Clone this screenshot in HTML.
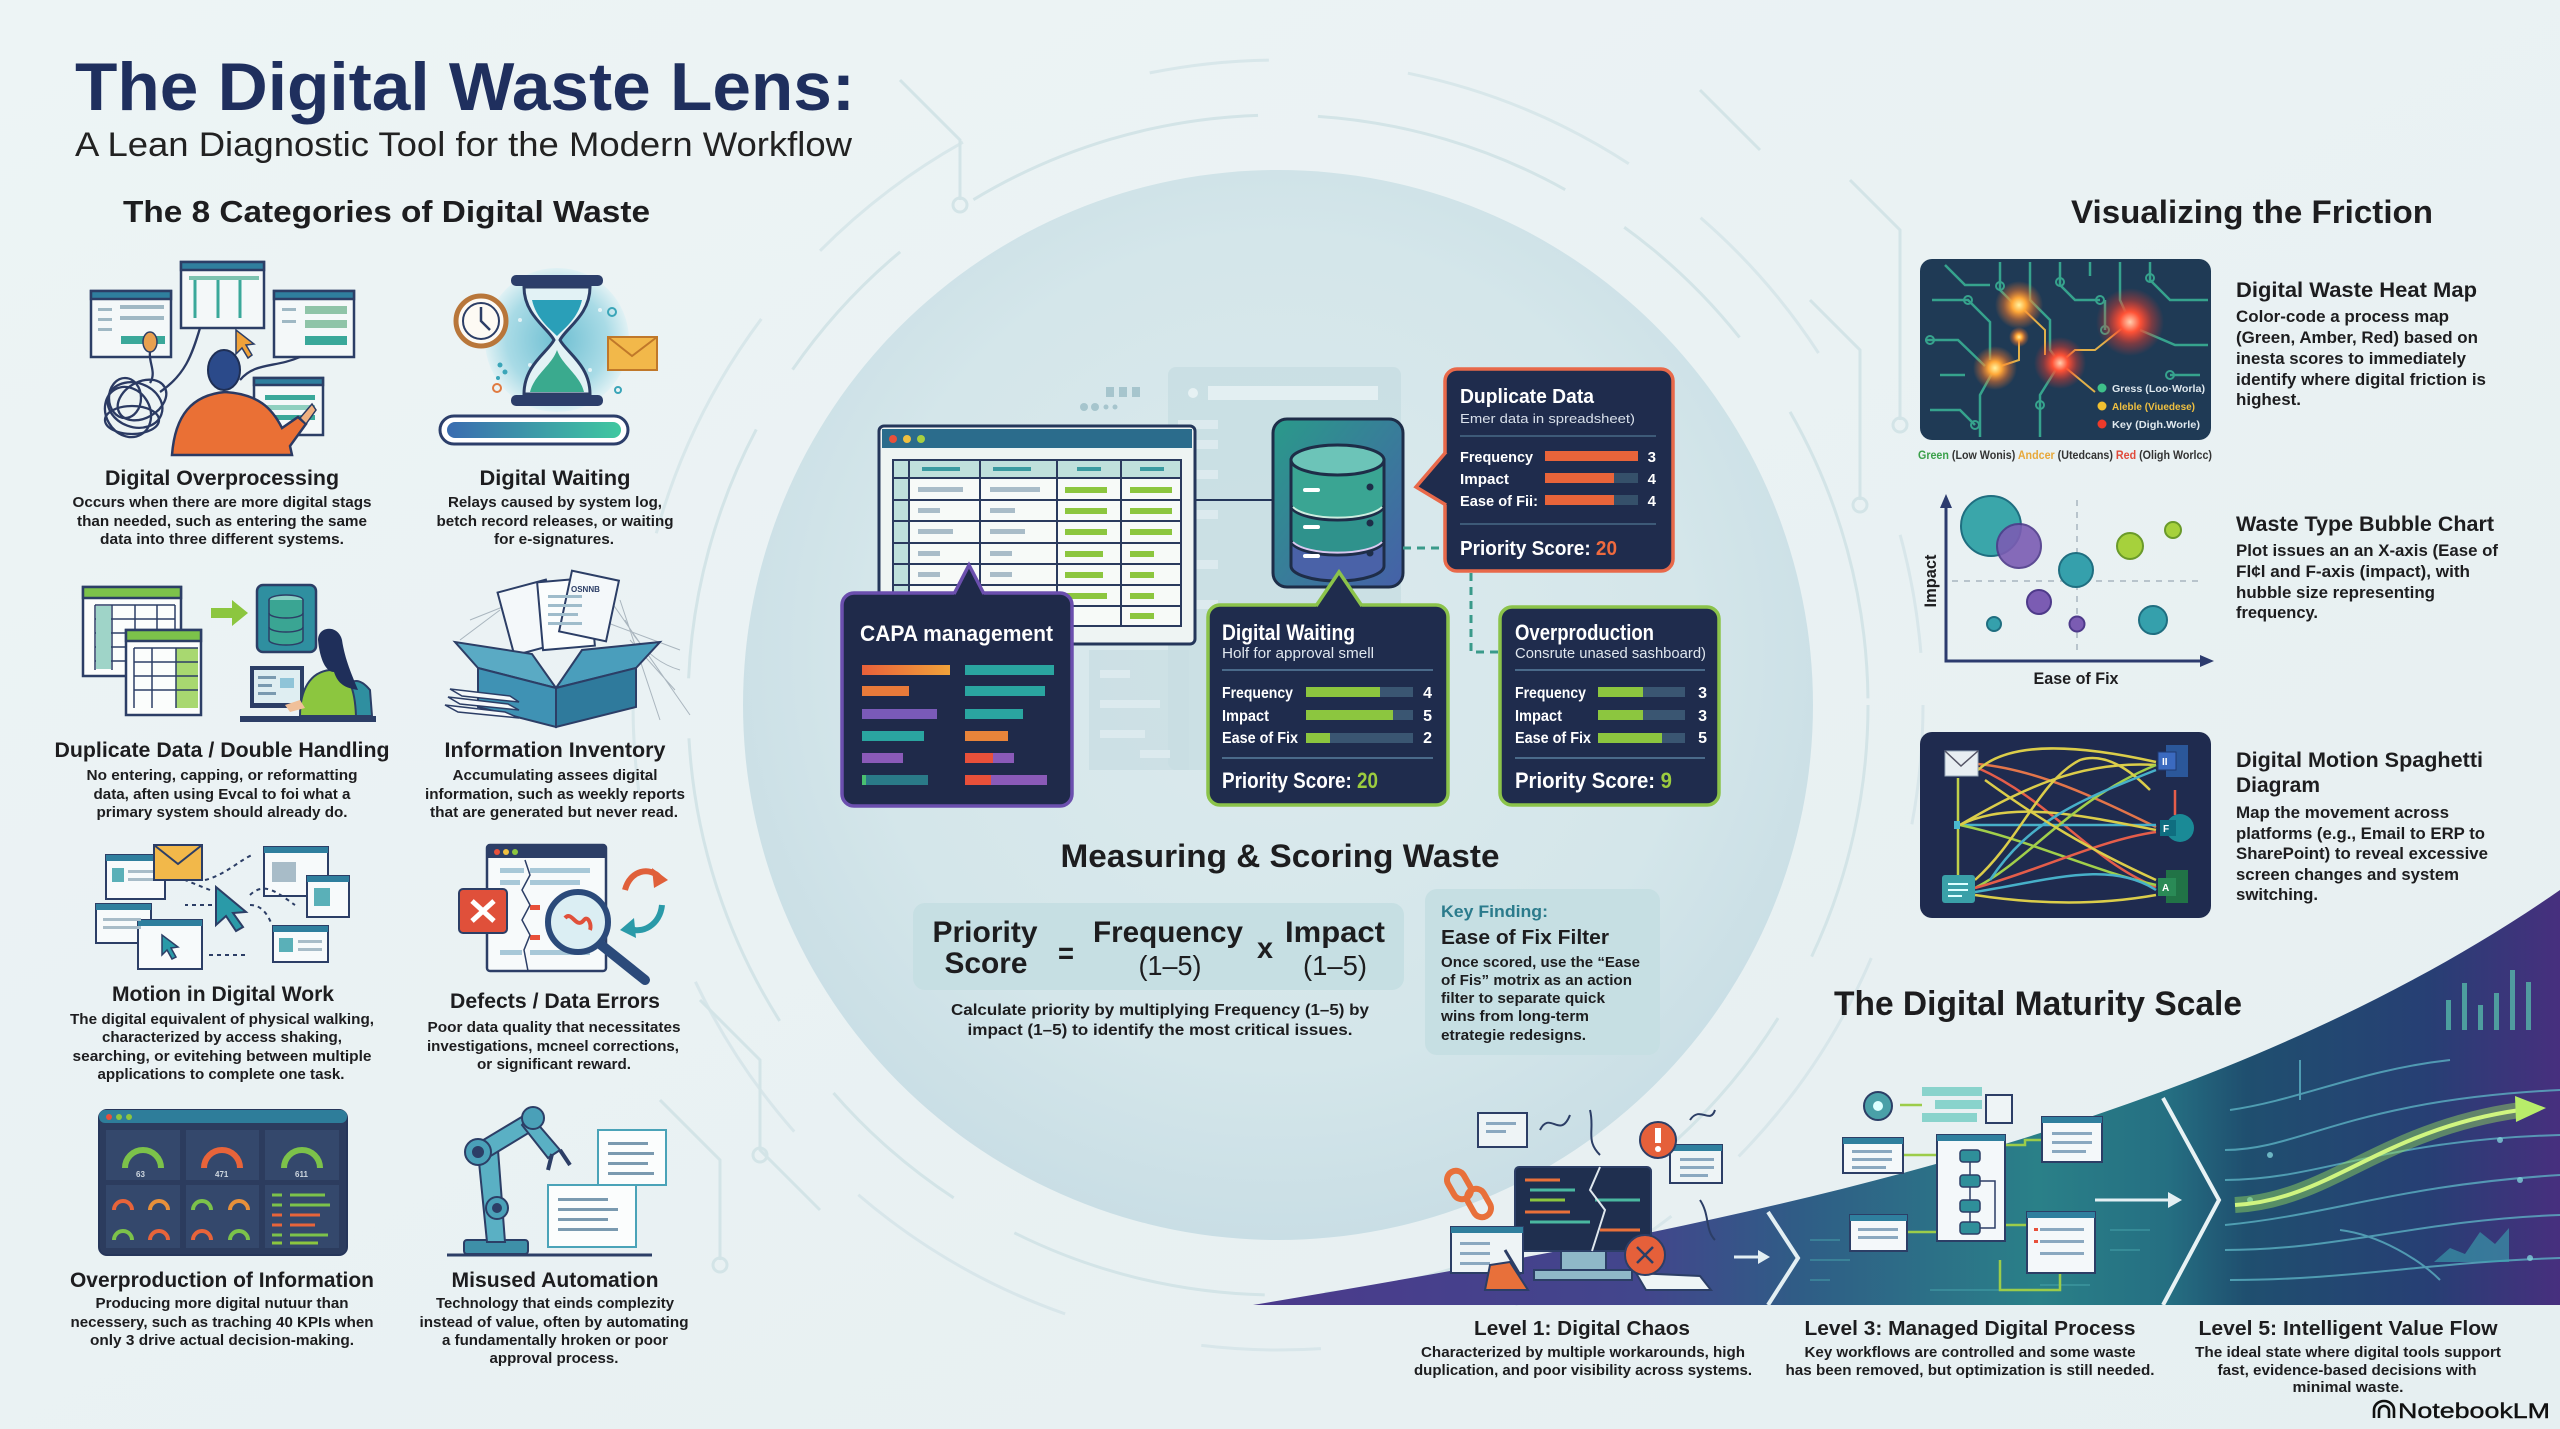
<!DOCTYPE html>
<html><head><meta charset="utf-8"><style>
html,body{margin:0;padding:0;background:#e9f1f3;}
svg{display:block}
text{font-family:"Liberation Sans",Arial,sans-serif;}
.b{font-weight:700}
.c{text-anchor:middle}
.e{text-anchor:end}
.k{fill:#1d1d1f}
.w{fill:#ffffff}
</style></head><body>
<svg width="2560" height="1429" viewBox="0 0 2560 1429" xmlns="http://www.w3.org/2000/svg">
<defs>
<linearGradient id="bgG" x1="0" y1="0" x2="1" y2="1"><stop offset="0" stop-color="#edf4f5"/><stop offset="1" stop-color="#e6eff1"/></linearGradient>
<radialGradient id="discG" cx="0.5" cy="0.45" r="0.55"><stop offset="0" stop-color="#dceaed"/><stop offset="0.7" stop-color="#d4e6ea"/><stop offset="1" stop-color="#c9dee5"/></radialGradient>
<linearGradient id="wedgeG" gradientUnits="userSpaceOnUse" x1="1253" y1="0" x2="2560" y2="0">
<stop offset="0" stop-color="#4b3a8c"/><stop offset="0.3" stop-color="#42468c"/><stop offset="0.42" stop-color="#2f5d86"/><stop offset="0.6" stop-color="#2a8088"/><stop offset="0.7" stop-color="#256f82"/><stop offset="0.76" stop-color="#1f4f6f"/><stop offset="0.9" stop-color="#273f74"/><stop offset="1" stop-color="#472f7e"/></linearGradient>
<linearGradient id="dbG" x1="0" y1="0" x2="1" y2="1"><stop offset="0" stop-color="#2a9a8a"/><stop offset="1" stop-color="#4660a8"/></linearGradient>
<radialGradient id="gO"><stop offset="0" stop-color="#fff3a0"/><stop offset="0.3" stop-color="#ffa838"/><stop offset="0.65" stop-color="#ff7a28" stop-opacity="0.45"/><stop offset="1" stop-color="#ff7a28" stop-opacity="0"/></radialGradient>
<radialGradient id="gR"><stop offset="0" stop-color="#ffd0b0"/><stop offset="0.3" stop-color="#ff5236"/><stop offset="0.65" stop-color="#ff3c28" stop-opacity="0.4"/><stop offset="1" stop-color="#ff3c28" stop-opacity="0"/></radialGradient>
<linearGradient id="pbG" x1="0" x2="1"><stop offset="0" stop-color="#3a6cb0"/><stop offset="1" stop-color="#40c8a0"/></linearGradient>
<radialGradient id="hgG"><stop offset="0" stop-color="#6fbfd2"/><stop offset="0.7" stop-color="#a9dbe6"/><stop offset="1" stop-color="#e0f1f4"/></radialGradient>
<linearGradient id="orG" x1="0" x2="1"><stop offset="0" stop-color="#e8603a"/><stop offset="1" stop-color="#f0a23a"/></linearGradient>
</defs>

<!-- background -->
<rect width="2560" height="1429" fill="url(#bgG)"/>
<g fill="none" stroke="#d3e4e7" stroke-width="3">
<circle cx="1278" cy="705" r="590" stroke-dasharray="260 70 160 90 300 60"/>
<circle cx="1278" cy="705" r="645" stroke-dasharray="120 140 240 90 180 200" opacity=".8"/>
<path d="M700,1000 L760,1060 V1150 L820,1210"/><path d="M660,1100 L720,1160 V1260"/>
<path d="M1810,300 L1860,350 V500"/><path d="M1850,180 L1900,230 V420"/>
<path d="M1700,90 L1760,150"/><path d="M900,80 L960,140 V200"/>
</g>
<g fill="none" stroke="#d3e4e7" stroke-width="3"><circle cx="1860" cy="505" r="7"/><circle cx="1900" cy="425" r="7"/><circle cx="960" cy="205" r="7"/><circle cx="760" cy="1155" r="7"/><circle cx="720" cy="1265" r="7"/></g>

<!-- center disc -->
<circle cx="1278" cy="705" r="535" fill="url(#discG)"/>

<!-- TITLE -->
<text x="75" y="110" class="b" font-size="68" fill="#1f2f5e" textLength="780" lengthAdjust="spacingAndGlyphs">The Digital Waste Lens:</text>
<text x="75" y="156" font-size="34" fill="#222" textLength="777" lengthAdjust="spacingAndGlyphs">A Lean Diagnostic Tool for the Modern Workflow</text>
<text x="123" y="222" class="b k" font-size="31" textLength="527" lengthAdjust="spacingAndGlyphs">The 8 Categories of Digital Waste</text>

<!-- ICON 1 Overprocessing -->
<g stroke="#2c3e66" stroke-width="2.5">
<rect x="91" y="291" width="80" height="66" fill="#f4f8f9"/><rect x="91" y="291" width="80" height="8" fill="#2f7f9e"/>
<rect x="181" y="262" width="83" height="66" fill="#f4f8f9"/><rect x="181" y="262" width="83" height="8" fill="#2f7f9e"/>
<rect x="274" y="291" width="80" height="66" fill="#f4f8f9"/><rect x="274" y="291" width="80" height="8" fill="#2f7f9e"/>
<rect x="254" y="378" width="69" height="57" fill="#f4f8f9"/><rect x="254" y="378" width="69" height="7" fill="#2f7f9e"/>
</g>
<g fill="#9fb8c4"><rect x="98" y="308" width="14" height="3"/><rect x="98" y="318" width="14" height="3"/><rect x="98" y="328" width="14" height="3"/><rect x="120" y="305" width="44" height="4"/><rect x="120" y="316" width="44" height="4"/></g>
<rect x="121" y="336" width="44" height="8" fill="#3aa89a"/>
<g stroke="#3aa89a" stroke-width="3"><path d="M195,280 V318 M218,280 V318 M240,280 V318"/></g>
<g fill="#7cc3b0"><rect x="189" y="276" width="70" height="4"/></g>
<g fill="#9fb8c4"><rect x="282" y="308" width="14" height="3"/><rect x="282" y="320" width="14" height="3"/></g>
<rect x="305" y="306" width="42" height="8" fill="#8fc4a8"/><rect x="305" y="320" width="42" height="8" fill="#8fc4a8"/><rect x="305" y="336" width="42" height="9" fill="#3aa89a"/>
<g fill="#3aa89a"><rect x="265" y="395" width="50" height="5"/><rect x="265" y="405" width="50" height="5" fill="#8fd0c0"/><rect x="265" y="415" width="50" height="5"/></g>
<polygon points="236,330 236,354 242,348 248,358 252,355 246,345 254,344" fill="#f0a23a" stroke="#2c3e66" stroke-width="1.5"/>
<g stroke="#2b3a63" stroke-width="2.3" fill="none">
<ellipse cx="135" cy="405" rx="28" ry="22" transform="rotate(20 135 405)"/>
<ellipse cx="128" cy="412" rx="22" ry="26" transform="rotate(-30 128 412)"/>
<ellipse cx="142" cy="400" rx="18" ry="26" transform="rotate(60 142 400)"/>
<ellipse cx="132" cy="420" rx="27" ry="14"/>
<ellipse cx="125" cy="398" rx="16" ry="20"/>
<path d="M150,383 C158,370 145,360 152,345"/>
<path d="M160,392 C185,375 192,355 200,328"/>
<path d="M240,380 C255,362 275,368 300,357"/>
</g>
<ellipse cx="150" cy="342" rx="7" ry="10" fill="#e8a050" stroke="#2c3e66" stroke-width="1.5"/>
<path d="M200,455 V432 Q225,420 250,432 V455 Z" fill="#2e6ea0" stroke="#2b3a63" stroke-width="2"/>
<path d="M172,455 C175,415 192,395 225,392 C258,394 272,408 282,428 L298,417 L306,424 L290,446 L292,455 Z" fill="#ea7035" stroke="#2b3a63" stroke-width="2.5"/>
<ellipse cx="224" cy="370" rx="16" ry="20" fill="#2b4a8a" stroke="#1f2f55" stroke-width="2"/>
<path d="M300,418 L312,404 L316,410 L306,424 Z" fill="#f0b080" stroke="#2b3a63" stroke-width="1.5"/>

<!-- ICON 2 Waiting -->
<circle cx="557" cy="340" r="72" fill="url(#hgG)"/>
<g fill="#ffffff" opacity=".7"><circle cx="520" cy="320" r="2"/><circle cx="600" cy="310" r="2"/><circle cx="590" cy="370" r="2"/><circle cx="530" cy="365" r="2"/><circle cx="575" cy="290" r="2"/></g>
<g fill="#3aa5b8"><circle cx="500" cy="365" r="2.5"/><circle cx="505" cy="372" r="2.5"/><circle cx="498" cy="378" r="2"/><circle cx="612" cy="312" r="4" fill="none" stroke="#3aa5b8" stroke-width="2"/><circle cx="618" cy="390" r="3" fill="none" stroke="#3aa5b8" stroke-width="2"/></g>
<circle cx="497" cy="388" r="4" fill="none" stroke="#e07a40" stroke-width="2"/>
<path d="M524,287 H590 C590,315 566,328 560,340 C566,352 590,365 590,394 H524 C524,365 548,352 554,340 C548,328 524,315 524,287 Z" fill="#e2f2f5" stroke="#2c3e66" stroke-width="3"/>
<path d="M532,300 H582 C578,318 565,328 557,336 C549,328 536,318 532,300 Z" fill="#2a9fb8"/>
<path d="M557,350 C562,365 580,375 584,392 H530 C534,375 552,365 557,350 Z" fill="#3aaa8e"/>
<rect x="511" y="275" width="92" height="11" rx="5" fill="#2c3e6a"/><rect x="511" y="395" width="92" height="11" rx="5" fill="#2c3e6a"/>
<circle cx="481" cy="321" r="25" fill="#fdfaf4" stroke="#b8763a" stroke-width="5"/><circle cx="481" cy="321" r="18" fill="none" stroke="#2c3e66" stroke-width="2"/>
<path d="M481,307 V321 L490,330" stroke="#2c3e66" stroke-width="2.5" fill="none"/>
<rect x="608" y="337" width="49" height="33" fill="#f2b84a" stroke="#c0782a" stroke-width="2"/><path d="M608,337 L632,356 L657,337" fill="none" stroke="#c0782a" stroke-width="2"/>
<rect x="440" y="416" width="188" height="28" rx="14" fill="#fff" stroke="#2c3e6a" stroke-width="3"/>
<rect x="447" y="422" width="174" height="16" rx="8" fill="url(#pbG)"/>

<!-- ICON 3 Duplicate -->
<g stroke="#2c3e66" stroke-width="2.5">
<rect x="83" y="587" width="98" height="89" fill="#fbfdfc"/><rect x="83" y="587" width="98" height="11" fill="#7cc24a"/>
</g>
<g stroke="#2c3e66" stroke-width="1.5" fill="none"><path d="M95,605 H175 M95,619 H175 M95,633 H175 M95,647 H175 M95,661 H175 M95,605 V670 M112,605 V670 M135,605 V670 M157,605 V670 M175,605 V670"/></g>
<rect x="96" y="606" width="15" height="63" fill="#9fd4c8"/>
<g stroke="#2c3e66" stroke-width="2.5"><rect x="126" y="630" width="75" height="85" fill="#fbfdfc"/><rect x="126" y="630" width="75" height="11" fill="#7cc24a"/></g>
<rect x="176" y="648" width="22" height="60" fill="#a8d870"/>
<g stroke="#2c3e66" stroke-width="1.5" fill="none"><path d="M134,648 H198 M134,662 H198 M134,676 H198 M134,690 H198 M134,648 V708 M152,648 V708 M176,648 V708"/></g>
<polygon points="211,608 232,608 232,600 248,613 232,626 232,618 211,618" fill="#8cc63f"/>
<rect x="257" y="585" width="59" height="67" rx="6" fill="#2f8fa0" stroke="#2c3e66" stroke-width="2.5"/>
<ellipse cx="286" cy="600" rx="17" ry="5" fill="#8ad0c4" stroke="#2c3e66" stroke-width="1.5"/>
<path d="M269,600 V640 A17,5 0 0 0 303,640 V600" fill="#3aa593" stroke="#2c3e66" stroke-width="1.5"/>
<path d="M269,613 A17,5 0 0 0 303,613 M269,627 A17,5 0 0 0 303,627" fill="none" stroke="#2c3e66" stroke-width="1.5"/>
<rect x="250" y="666" width="54" height="42" fill="#2c3e66"/><rect x="254" y="670" width="46" height="33" fill="#dfeef2"/>
<g fill="#7a9ab0"><rect x="258" y="676" width="18" height="3"/><rect x="258" y="684" width="14" height="3"/><rect x="258" y="692" width="18" height="3"/><rect x="280" y="678" width="14" height="10" fill="#8fc4d8"/></g>
<rect x="240" y="716" width="136" height="6" fill="#2c3e66"/>
<path d="M345,690 Q355,672 370,690 L372,716 H345 Z" fill="#2f8fa0" stroke="#2c3e66" stroke-width="2"/>
<path d="M300,716 C300,690 310,672 330,670 C350,672 355,690 356,716 Z" fill="#8cc63f" stroke="#2c3e66" stroke-width="2"/>
<path d="M318,640 C318,626 338,624 342,640 C345,660 352,675 358,690 C345,688 338,684 334,672 C326,672 320,660 318,640 Z" fill="#1f2f5a"/>
<path d="M300,700 L285,705 L290,712 L305,708 Z" fill="#f0c09a"/>

<!-- ICON 4 Inventory -->
<g stroke="#9aa6b2" stroke-width="1" fill="none" opacity=".8">
<path d="M610,600 L690,715 M620,600 L660,720 M600,620 L680,650 M630,640 L675,690 M625,620 Q645,660 680,670 M470,620 L520,600 M460,640 L500,610"/>
</g>
<g stroke="#2c3e66" stroke-width="2">
<rect x="505" y="585" width="50" height="65" fill="#f4f8fa" transform="rotate(-15 530 617)"/>
<rect x="540" y="580" width="52" height="68" fill="#fbfdfd" transform="rotate(-5 566 614)"/>
<rect x="565" y="575" width="48" height="62" fill="#f4f8fa" transform="rotate(12 589 606)"/>
</g>
<g fill="#9fbccb"><rect x="548" y="595" width="34" height="3"/><rect x="548" y="604" width="34" height="3"/><rect x="548" y="613" width="30" height="3"/><rect x="548" y="622" width="34" height="3"/></g>
<text x="571" y="592" font-size="8" class="b" fill="#2c3e66">OSNNB</text>
<polygon points="478,668 455,642 532,654 556,688" fill="#5aaac4" stroke="#2c3e66" stroke-width="2"/>
<polygon points="556,688 582,650 660,642 636,668" fill="#4a9ebc" stroke="#2c3e66" stroke-width="2"/>
<polygon points="478,668 556,688 556,727 478,707" fill="#3f92b4" stroke="#2c3e66" stroke-width="2"/>
<polygon points="556,688 636,668 636,707 556,727" fill="#2f7a9c" stroke="#2c3e66" stroke-width="2"/>
<g stroke="#2c3e66" stroke-width="1.5" fill="#f4f8fa"><polygon points="445,705 505,712 519,718 458,712"/><polygon points="448,697 508,704 519,710 460,704"/><polygon points="450,689 510,696 519,702 462,696"/></g>

<!-- ICON 5 Motion -->
<g stroke="#2c3e66" stroke-width="2" fill="#f7fafb">
<rect x="106" y="855" width="59" height="44"/><rect x="264" y="847" width="64" height="49"/><rect x="307" y="876" width="42" height="41"/><rect x="96" y="904" width="55" height="39"/><rect x="138" y="920" width="64" height="49"/><rect x="273" y="926" width="55" height="36"/>
</g>
<g fill="#2f7f9e"><rect x="106" y="855" width="59" height="6"/><rect x="264" y="847" width="64" height="6"/><rect x="307" y="876" width="42" height="6"/><rect x="96" y="904" width="55" height="6"/><rect x="138" y="920" width="64" height="6"/><rect x="273" y="926" width="55" height="6"/></g>
<g fill="#5ab0b8"><rect x="112" y="868" width="12" height="14"/><rect x="314" y="888" width="16" height="18"/><rect x="279" y="938" width="14" height="14"/></g>
<g fill="#a8bcc8"><rect x="128" y="870" width="30" height="3"/><rect x="128" y="878" width="30" height="3"/><rect x="272" y="862" width="24" height="20"/><rect x="103" y="918" width="38" height="3"/><rect x="103" y="926" width="38" height="3"/><rect x="298" y="940" width="24" height="3"/><rect x="298" y="948" width="24" height="3"/></g>
<rect x="154" y="845" width="48" height="35" fill="#f2b84a" stroke="#2c3e66" stroke-width="2"/><path d="M154,845 L178,864 L202,845" fill="none" stroke="#2c3e66" stroke-width="2"/>
<polygon points="216,887 216,925 226,916 236,931 243,927 233,913 246,912" fill="#2a9aa8" stroke="#2c3e66" stroke-width="2"/>
<polygon points="162,935 162,955 167,950 172,959 176,957 171,948 178,947" fill="#2a9aa8" stroke="#2c3e66" stroke-width="1.5"/>
<g fill="none" stroke="#2c3e66" stroke-width="2" stroke-dasharray="4 4"><path d="M205,880 C225,875 240,860 252,855"/><path d="M210,890 L185,880"/><path d="M212,905 H185"/><path d="M250,905 C262,905 268,915 272,925"/><path d="M245,955 H205"/><path d="M250,895 C265,880 280,895 295,905"/></g>

<!-- ICON 6 Defects -->
<rect x="487" y="845" width="119" height="126" rx="3" fill="#f7fafb" stroke="#2c3e66" stroke-width="2.5"/>
<rect x="487" y="845" width="119" height="13" fill="#2c3e66"/>
<circle cx="497" cy="852" r="3" fill="#e8503a"/><circle cx="506" cy="852" r="3" fill="#f0c040"/><circle cx="515" cy="852" r="3" fill="#8cc63f"/>
<g fill="#a8c8d8"><rect x="500" y="868" width="24" height="5"/><rect x="530" y="868" width="60" height="5"/><rect x="500" y="880" width="20" height="5"/><rect x="530" y="880" width="50" height="5"/><rect x="530" y="950" width="60" height="5"/><rect x="500" y="950" width="22" height="5"/></g>
<g fill="#e8503a"><rect x="530" y="905" width="10" height="5"/><rect x="530" y="935" width="10" height="5"/></g>
<path d="M525,860 L530,875 L522,890 L530,905 L522,920 L530,935 L524,950 L528,971" fill="none" stroke="#2c3e66" stroke-width="1.5"/>
<rect x="459" y="889" width="48" height="44" rx="4" fill="#e0503a" stroke="#2c3e66" stroke-width="2"/>
<path d="M472,901 L494,921 M494,901 L472,921" stroke="#fff" stroke-width="5"/>
<line x1="600" y1="944" x2="645" y2="980" stroke="#2b4a7a" stroke-width="10" stroke-linecap="round"/>
<circle cx="578" cy="922" r="30" fill="#dbeef3" stroke="#2b4a7a" stroke-width="6"/>
<path d="M565,918 C572,910 576,930 584,920 C588,915 592,925 590,930" fill="none" stroke="#e0503a" stroke-width="4"/>
<path d="M625,890 C630,870 650,866 660,878" fill="none" stroke="#e0603a" stroke-width="6"/><polygon points="652,868 668,880 654,888" fill="#e0603a"/>
<path d="M662,905 C660,925 642,935 628,928" fill="none" stroke="#2a9aa8" stroke-width="6"/><polygon points="634,918 620,930 636,938" fill="#2a9aa8"/>

<!-- ICON 7 Overproduction dashboard -->
<rect x="99" y="1110" width="248" height="145" rx="8" fill="#2c3c5e" stroke="#26365a" stroke-width="2"/>
<rect x="99" y="1110" width="248" height="13" rx="6" fill="#2e7d9a"/>
<circle cx="109" cy="1117" r="3" fill="#e8503a"/><circle cx="119" cy="1117" r="3" fill="#8cc63f"/><circle cx="129" cy="1117" r="3" fill="#8cc63f"/>
<g fill="#34486c"><rect x="106" y="1130" width="74" height="50"/><rect x="186" y="1130" width="73" height="50"/><rect x="265" y="1130" width="74" height="50"/><rect x="106" y="1185" width="74" height="63"/><rect x="186" y="1185" width="73" height="63"/><rect x="265" y="1185" width="74" height="63"/></g>
<g fill="none" stroke-width="6">
<path d="M125,1168 A18,18 0 0 1 161,1168" stroke="#7cc24a"/><path d="M204,1168 A18,18 0 0 1 240,1168" stroke="#e8643a"/><path d="M284,1168 A18,18 0 0 1 320,1168" stroke="#7cc24a"/>
</g>
<g fill="none" stroke-width="4">
<path d="M114,1210 A9,9 0 0 1 132,1210" stroke="#e8643a"/><path d="M150,1210 A9,9 0 0 1 168,1210" stroke="#e8903a"/><path d="M114,1240 A9,9 0 0 1 132,1240" stroke="#7cc24a"/><path d="M150,1240 A9,9 0 0 1 168,1240" stroke="#e8643a"/>
<path d="M193,1210 A9,9 0 0 1 211,1210" stroke="#7cc24a"/><path d="M230,1210 A9,9 0 0 1 248,1210" stroke="#e8903a"/><path d="M193,1240 A9,9 0 0 1 211,1240" stroke="#e8643a"/><path d="M230,1240 A9,9 0 0 1 248,1240" stroke="#7cc24a"/>
</g>
<g stroke-width="3"><path d="M272,1195 H282 M290,1195 H325" stroke="#7cc24a"/><path d="M272,1205 H282 M290,1205 H330" stroke="#7cc24a"/><path d="M272,1215 H282 M290,1215 H320" stroke="#e8643a"/><path d="M272,1225 H282 M290,1225 H315" stroke="#e8643a"/><path d="M272,1235 H282 M290,1235 H328" stroke="#7cc24a"/><path d="M272,1243 H282 M290,1243 H318" stroke="#8cc63f"/></g>
<g fill="#cfd8e0" font-size="8" class="b"><text x="136" y="1177">63</text><text x="215" y="1177">471</text><text x="295" y="1177">611</text></g>

<!-- ICON 8 Automation -->
<line x1="447" y1="1255" x2="652" y2="1255" stroke="#2c3e66" stroke-width="3"/>
<rect x="464" y="1240" width="64" height="14" rx="3" fill="#3e8fa8" stroke="#2c3e66" stroke-width="2"/>
<path d="M598,1130 H666 V1185 H598 Z" fill="#fbfdfd" stroke="#4aa3b8" stroke-width="2"/>
<path d="M548,1185 H636 V1247 H548 Z" fill="#fbfdfd" stroke="#4aa3b8" stroke-width="2"/>
<g fill="#7a9ab0"><rect x="608" y="1142" width="40" height="3"/><rect x="608" y="1152" width="46" height="3"/><rect x="608" y="1162" width="40" height="3"/><rect x="608" y="1172" width="46" height="3"/><rect x="558" y="1198" width="50" height="3"/><rect x="558" y="1208" width="60" height="3"/><rect x="558" y="1218" width="50" height="3"/><rect x="558" y="1228" width="60" height="3"/></g>
<g stroke="#2c3e66" stroke-width="2">
<path d="M487,1242 L478,1152 L498,1150 L505,1242 Z" fill="#5ab0c4"/>
<path d="M470,1148 L530,1112 L540,1126 L484,1160 Z" fill="#5ab0c4"/>
<path d="M530,1115 L560,1150 L548,1158 L522,1125 Z" fill="#5ab0c4"/>
<circle cx="478" cy="1152" r="13" fill="#4aa0b8"/><circle cx="478" cy="1152" r="5" fill="#2c3e66"/>
<circle cx="533" cy="1118" r="11" fill="#4aa0b8"/>
<circle cx="497" cy="1208" r="11" fill="#4aa0b8"/><circle cx="497" cy="1208" r="4" fill="#2c3e66"/>
<path d="M552,1154 L548,1170 M560,1150 L570,1165" fill="none" stroke-width="4"/>
</g>

<!-- LEFT TEXTS -->
<g class="b k">
<text x="222" y="485" class="c" font-size="21" textLength="234" lengthAdjust="spacingAndGlyphs">Digital Overprocessing</text>
<text x="555" y="485" class="c" font-size="21" textLength="151" lengthAdjust="spacingAndGlyphs">Digital Waiting</text>
<text x="222" y="757" class="c" font-size="21" textLength="335" lengthAdjust="spacingAndGlyphs">Duplicate Data / Double Handling</text>
<text x="555" y="757" class="c" font-size="21" textLength="221" lengthAdjust="spacingAndGlyphs">Information Inventory</text>
<text x="223" y="1001" class="c" font-size="21" textLength="222" lengthAdjust="spacingAndGlyphs">Motion in Digital Work</text>
<text x="555" y="1008" class="c" font-size="21" textLength="210" lengthAdjust="spacingAndGlyphs">Defects / Data Errors</text>
<text x="222" y="1287" class="c" font-size="21" textLength="304" lengthAdjust="spacingAndGlyphs">Overproduction of Information</text>
<text x="555" y="1287" class="c" font-size="21" textLength="207" lengthAdjust="spacingAndGlyphs">Misused Automation</text>
</g>
<g class="b k" font-size="15">
<text x="222" y="507" class="c" textLength="299" lengthAdjust="spacingAndGlyphs">Occurs when there are more digital stags</text>
<text x="222" y="526" class="c" textLength="290" lengthAdjust="spacingAndGlyphs">than needed, such as entering the same</text>
<text x="222" y="544" class="c" textLength="244" lengthAdjust="spacingAndGlyphs">data into three different systems.</text>
<text x="555" y="507" class="c" textLength="214" lengthAdjust="spacingAndGlyphs">Relays caused by system log,</text>
<text x="555" y="526" class="c" textLength="237" lengthAdjust="spacingAndGlyphs">betch record releases, or waiting</text>
<text x="554" y="544" class="c" textLength="120" lengthAdjust="spacingAndGlyphs">for e-signatures.</text>
<text x="222" y="780" class="c" textLength="271" lengthAdjust="spacingAndGlyphs">No entering, capping, or reformatting</text>
<text x="222" y="799" class="c" textLength="257" lengthAdjust="spacingAndGlyphs">data, aften using Evcal to foi what a</text>
<text x="222" y="817" class="c" textLength="251" lengthAdjust="spacingAndGlyphs">primary system should already do.</text>
<text x="555" y="780" class="c" textLength="205" lengthAdjust="spacingAndGlyphs">Accumulating assees digital</text>
<text x="555" y="799" class="c" textLength="260" lengthAdjust="spacingAndGlyphs">information, such as weekly reports</text>
<text x="554" y="817" class="c" textLength="248" lengthAdjust="spacingAndGlyphs">that are generated but never read.</text>
<text x="222" y="1024" class="c" textLength="304" lengthAdjust="spacingAndGlyphs">The digital equivalent of physical walking,</text>
<text x="222" y="1042" class="c" textLength="240" lengthAdjust="spacingAndGlyphs">characterized by access shaking,</text>
<text x="222" y="1061" class="c" textLength="299" lengthAdjust="spacingAndGlyphs">searching, or evitehing between multiple</text>
<text x="221" y="1079" class="c" textLength="247" lengthAdjust="spacingAndGlyphs">applications to complete one task.</text>
<text x="554" y="1032" class="c" textLength="253" lengthAdjust="spacingAndGlyphs">Poor data quality that necessitates</text>
<text x="553" y="1051" class="c" textLength="252" lengthAdjust="spacingAndGlyphs">investigations, mcneel corrections,</text>
<text x="554" y="1069" class="c" textLength="154" lengthAdjust="spacingAndGlyphs">or significant reward.</text>
<text x="222" y="1308" class="c" textLength="253" lengthAdjust="spacingAndGlyphs">Producing more digital nutuur than</text>
<text x="222" y="1327" class="c" textLength="303" lengthAdjust="spacingAndGlyphs">necessery, such as traching 40 KPIs when</text>
<text x="222" y="1345" class="c" textLength="264" lengthAdjust="spacingAndGlyphs">only 3 drive actual decision-making.</text>
<text x="555" y="1308" class="c" textLength="238" lengthAdjust="spacingAndGlyphs">Technology that einds complezity</text>
<text x="554" y="1327" class="c" textLength="269" lengthAdjust="spacingAndGlyphs">instead of value, often by automating</text>
<text x="555" y="1345" class="c" textLength="226" lengthAdjust="spacingAndGlyphs">a fundamentally hroken or poor</text>
<text x="554" y="1363" class="c" textLength="129" lengthAdjust="spacingAndGlyphs">approval process.</text>
</g>

<!-- CENTER: faded panels -->
<rect x="1168" y="367" width="233" height="403" rx="8" fill="#c7dde2" opacity=".8"/>
<circle cx="1193" cy="393" r="5" fill="#e6f1f3"/><rect x="1208" y="386" width="170" height="14" fill="#e3eff2"/>
<g fill="#dceaee"><rect x="1178" y="420" width="40" height="9"/><rect x="1178" y="440" width="40" height="9"/><rect x="1178" y="470" width="40" height="9"/><rect x="1178" y="510" width="40" height="9"/><rect x="1178" y="560" width="40" height="9"/><rect x="1178" y="600" width="40" height="9"/></g>
<rect x="1089" y="650" width="100" height="120" fill="#c7dde2" opacity=".7"/>
<g fill="#dceaee"><rect x="1100" y="670" width="30" height="8"/><rect x="1100" y="700" width="60" height="8"/><rect x="1100" y="730" width="45" height="8"/><rect x="1140" y="750" width="30" height="8"/></g>
<g fill="#a6c5cd"><rect x="1106" y="387" width="8" height="10"/><rect x="1119" y="387" width="8" height="10"/><rect x="1132" y="387" width="8" height="10"/><circle cx="1084" cy="407" r="4"/><circle cx="1095" cy="407" r="4"/><circle cx="1106" cy="407" r="2.5"/><circle cx="1115" cy="407" r="2.5"/></g>

<!-- spreadsheet window -->
<rect x="879" y="426" width="316" height="218" rx="5" fill="#eef4f3" stroke="#24365a" stroke-width="3"/>
<path d="M882,429 H1192 V448 H882 Z" fill="#2b6c8c"/>
<circle cx="893" cy="439" r="4" fill="#e8503a"/><circle cx="907" cy="439" r="4" fill="#f0c040"/><circle cx="921" cy="439" r="4" fill="#a8d040"/>
<rect x="893" y="460" width="288" height="166" fill="#f7faf8"/>
<rect x="893" y="460" width="288" height="18" fill="#bfe0dc"/><rect x="893" y="460" width="16" height="166" fill="#bfe0dc"/>
<g stroke="#2a3a5e" stroke-width="2" fill="none">
<rect x="893" y="460" width="288" height="166"/>
<path d="M909,460 V626 M980,460 V626 M1057,460 V626 M1121,460 V626 M893,478 H1181 M893,500 H1181 M893,521 H1181 M893,543 H1181 M893,564 H1181 M893,585 H1181 M893,606 H1181"/>
</g>
<g fill="#3a9aa0"><rect x="922" y="467" width="38" height="4"/><rect x="993" y="467" width="38" height="4"/><rect x="1077" y="467" width="24" height="4"/><rect x="1140" y="467" width="24" height="4"/></g>
<g fill="#a9bcc8"><rect x="918" y="487" width="45" height="5"/><rect x="990" y="487" width="50" height="5"/><rect x="918" y="508" width="22" height="5"/><rect x="990" y="508" width="25" height="5"/><rect x="918" y="529" width="35" height="5"/><rect x="990" y="529" width="35" height="5"/><rect x="918" y="551" width="22" height="5"/><rect x="990" y="551" width="22" height="5"/><rect x="918" y="572" width="22" height="5"/><rect x="990" y="572" width="22" height="5"/></g>
<g fill="#8cc63f"><rect x="1065" y="487" width="42" height="6"/><rect x="1130" y="487" width="42" height="6"/><rect x="1065" y="508" width="42" height="6"/><rect x="1130" y="508" width="42" height="6"/><rect x="1065" y="529" width="42" height="6"/><rect x="1130" y="529" width="42" height="6"/><rect x="1065" y="551" width="38" height="6"/><rect x="1130" y="551" width="24" height="6"/><rect x="1065" y="572" width="38" height="6"/><rect x="1130" y="572" width="24" height="6"/><rect x="1065" y="593" width="42" height="6"/><rect x="1130" y="593" width="24" height="6"/><rect x="1130" y="613" width="24" height="6"/></g>
<line x1="1195" y1="500" x2="1273" y2="500" stroke="#24365a" stroke-width="2"/>

<!-- DB box -->
<rect x="1273" y="419" width="130" height="168" rx="14" fill="url(#dbG)" stroke="#1e2d48" stroke-width="3"/>
<path d="M1291,460 V505 A46.5,15 0 0 0 1384,505 V460 Z" fill="#3aa593" stroke="#1e2d48" stroke-width="3"/>
<path d="M1291,505 V540 A46.5,15 0 0 0 1384,540 V505 A46.5,15 0 0 1 1291,505 Z" fill="#2f928c" stroke="#1e2d48" stroke-width="3"/>
<path d="M1291,540 V566 A46.5,15 0 0 0 1384,566 V540 A46.5,15 0 0 1 1291,540 Z" fill="#4a62a8" stroke="#1e2d48" stroke-width="3"/>
<path d="M1293,507 A46.5,15 0 0 0 1382,507" fill="none" stroke="#cdeee0" stroke-width="2"/>
<path d="M1293,542 A46.5,15 0 0 0 1382,542" fill="none" stroke="#d9c8f0" stroke-width="2"/>
<ellipse cx="1337.5" cy="460" rx="46.5" ry="15" fill="#6cc4b8" stroke="#1e2d48" stroke-width="3"/>
<g stroke="#fff" stroke-width="4" stroke-linecap="round"><path d="M1305,490 H1318 M1305,527 H1318 M1305,556 H1318"/></g>
<g fill="#1e2d48"><circle cx="1370" cy="487" r="3.5"/><circle cx="1370" cy="523" r="3.5"/><circle cx="1370" cy="553" r="3.5"/></g>

<!-- dashed connectors -->
<g stroke="#3a9a8a" stroke-width="3" stroke-dasharray="8 6" fill="none"><path d="M1403,548 H1445"/><path d="M1471,573 V652 H1500"/></g>

<!-- Duplicate Data card -->
<rect x="1445" y="369" width="228" height="202" rx="12" fill="#1f2c4d" stroke="#e8694a" stroke-width="3.5"/>
<polygon points="1447,452 1416,487 1447,505" fill="#1f2c4d"/>
<polyline points="1446,452 1416,487 1446,505" fill="none" stroke="#e8694a" stroke-width="3.5"/>
<text x="1460" y="403" class="b w" font-size="20" textLength="134" lengthAdjust="spacingAndGlyphs">Duplicate Data</text>
<text x="1460" y="423" font-size="13" fill="#d8e0ea" textLength="175" lengthAdjust="spacingAndGlyphs">Emer data in spreadsheet)</text>
<g stroke="#3d5a78" stroke-width="2"><line x1="1460" y1="436" x2="1656" y2="436"/><line x1="1460" y1="524" x2="1656" y2="524"/></g>
<g class="b w" font-size="15">
<text x="1460" y="462" textLength="73" lengthAdjust="spacingAndGlyphs">Frequency</text>
<text x="1460" y="484" textLength="49" lengthAdjust="spacingAndGlyphs">Impact</text>
<text x="1460" y="506" textLength="78" lengthAdjust="spacingAndGlyphs">Ease of Fii:</text>
<text x="1656" y="462" class="e">3</text><text x="1656" y="484" class="e">4</text><text x="1656" y="506" class="e">4</text>
</g>
<g fill="#35506a"><rect x="1545" y="451" width="93" height="10"/><rect x="1545" y="473" width="93" height="10"/><rect x="1545" y="495" width="93" height="10"/></g>
<g fill="#e8643a"><rect x="1545" y="451" width="93" height="10"/><rect x="1545" y="473" width="69" height="10"/><rect x="1545" y="495" width="69" height="10"/></g>
<text x="1460" y="555" class="b w" font-size="20" textLength="157" lengthAdjust="spacingAndGlyphs">Priority Score: <tspan fill="#ef6a3e">20</tspan></text>

<!-- CAPA card -->
<rect x="842" y="593" width="230" height="213" rx="12" fill="#1f2a4a" stroke="#6b4fae" stroke-width="3.5"/>
<polygon points="954,595 969,565 984,595" fill="#1f2a4a"/>
<polyline points="954,594 969,565 984,594" fill="none" stroke="#6b4fae" stroke-width="3.5"/>
<text x="860" y="641" class="b w" font-size="22" textLength="193" lengthAdjust="spacingAndGlyphs">CAPA management</text>
<rect x="862" y="665" width="88" height="10" fill="url(#orG)"/>
<rect x="862" y="686" width="47" height="10" fill="#e87a3a"/>
<rect x="862" y="709" width="75" height="10" fill="#7a5ab8"/>
<rect x="862" y="731" width="62" height="10" fill="#2aa5a0"/>
<rect x="862" y="753" width="41" height="10" fill="#8a5ab8"/>
<rect x="862" y="775" width="66" height="10" fill="#2a7a88"/><rect x="862" y="775" width="4" height="10" fill="#4ac070"/>
<rect x="965" y="665" width="89" height="10" fill="#2aa5a0"/>
<rect x="965" y="686" width="80" height="10" fill="#2aa5a0"/>
<rect x="965" y="709" width="58" height="10" fill="#2aa5a0"/>
<rect x="965" y="731" width="43" height="10" fill="#e8843a"/>
<rect x="965" y="753" width="28" height="10" fill="#e8503a"/><rect x="993" y="753" width="21" height="10" fill="#8a5ab8"/>
<rect x="965" y="775" width="26" height="10" fill="#e8503a"/><rect x="991" y="775" width="56" height="10" fill="#8a5ab8"/>

<!-- Digital Waiting card -->
<rect x="1208" y="605" width="240" height="200" rx="12" fill="#1f2c4d" stroke="#8bc34a" stroke-width="3.5"/>
<polygon points="1316,607 1339,572 1362,607" fill="#1f2c4d"/>
<polyline points="1316,606 1339,572 1362,606" fill="none" stroke="#8bc34a" stroke-width="3.5"/>
<text x="1222" y="640" class="b w" font-size="22" textLength="133" lengthAdjust="spacingAndGlyphs">Digital Waiting</text>
<text x="1222" y="658" font-size="15" fill="#dfe6ee" textLength="152" lengthAdjust="spacingAndGlyphs">Holf for approval smell</text>
<g stroke="#4a6a8a" stroke-width="2"><line x1="1222" y1="670" x2="1433" y2="670"/><line x1="1222" y1="758" x2="1433" y2="758"/></g>
<g class="b w" font-size="16">
<text x="1222" y="698" textLength="71" lengthAdjust="spacingAndGlyphs">Frequency</text>
<text x="1222" y="721" textLength="47" lengthAdjust="spacingAndGlyphs">Impact</text>
<text x="1222" y="743" textLength="76" lengthAdjust="spacingAndGlyphs">Ease of Fix</text>
<text x="1432" y="698" class="e">4</text><text x="1432" y="721" class="e">5</text><text x="1432" y="743" class="e">2</text>
</g>
<g fill="#3a5672"><rect x="1306" y="687" width="107" height="10"/><rect x="1306" y="710" width="107" height="10"/><rect x="1306" y="733" width="107" height="10"/></g>
<g fill="#8cc63f"><rect x="1306" y="687" width="74" height="10"/><rect x="1306" y="710" width="87" height="10"/><rect x="1306" y="733" width="24" height="10"/></g>
<text x="1222" y="788" class="b w" font-size="22" textLength="156" lengthAdjust="spacingAndGlyphs">Priority Score: <tspan fill="#9ccc3f">20</tspan></text>

<!-- Overproduction card -->
<rect x="1500" y="607" width="219" height="198" rx="12" fill="#1f2c4d" stroke="#8bc34a" stroke-width="3.5"/>
<text x="1515" y="640" class="b w" font-size="22" textLength="139" lengthAdjust="spacingAndGlyphs">Overproduction</text>
<text x="1515" y="658" font-size="15" fill="#dfe6ee" textLength="191" lengthAdjust="spacingAndGlyphs">Consrute unased sashboard)</text>
<g stroke="#4a6a8a" stroke-width="2"><line x1="1515" y1="670" x2="1705" y2="670"/><line x1="1515" y1="758" x2="1705" y2="758"/></g>
<g class="b w" font-size="16">
<text x="1515" y="698" textLength="71" lengthAdjust="spacingAndGlyphs">Frequency</text>
<text x="1515" y="721" textLength="47" lengthAdjust="spacingAndGlyphs">Impact</text>
<text x="1515" y="743" textLength="76" lengthAdjust="spacingAndGlyphs">Ease of Fix</text>
<text x="1707" y="698" class="e">3</text><text x="1707" y="721" class="e">3</text><text x="1707" y="743" class="e">5</text>
</g>
<g fill="#3a5672"><rect x="1598" y="687" width="87" height="10"/><rect x="1598" y="710" width="87" height="10"/><rect x="1598" y="733" width="87" height="10"/></g>
<g fill="#8cc63f"><rect x="1598" y="687" width="45" height="10"/><rect x="1598" y="710" width="45" height="10"/><rect x="1598" y="733" width="64" height="10"/></g>
<text x="1515" y="788" class="b w" font-size="22" textLength="157" lengthAdjust="spacingAndGlyphs">Priority Score: <tspan fill="#9ccc3f">9</tspan></text>

<!-- Measuring & Scoring -->
<text x="1280" y="867" class="b k c" font-size="32" textLength="439" lengthAdjust="spacingAndGlyphs">Measuring &amp; Scoring Waste</text>
<rect x="913" y="903" width="491" height="87" rx="12" fill="#c6dfe3"/>
<g class="b k" font-size="30">
<text x="985" y="942" class="c" textLength="105" lengthAdjust="spacingAndGlyphs">Priority</text>
<text x="986" y="973" class="c" textLength="83" lengthAdjust="spacingAndGlyphs">Score</text>
<text x="1066" y="963" class="c" textLength="16" lengthAdjust="spacingAndGlyphs">=</text>
<text x="1168" y="942" class="c" textLength="150" lengthAdjust="spacingAndGlyphs">Frequency</text>
<text x="1265" y="958" class="c" textLength="16" lengthAdjust="spacingAndGlyphs">x</text>
<text x="1335" y="942" class="c" textLength="100" lengthAdjust="spacingAndGlyphs">Impact</text>
</g>
<g class="k" font-size="28">
<text x="1170" y="975" class="c" textLength="63" lengthAdjust="spacingAndGlyphs">(1–5)</text>
<text x="1335" y="975" class="c" textLength="64" lengthAdjust="spacingAndGlyphs">(1–5)</text>
</g>
<g class="b k" font-size="16">
<text x="1160" y="1015" class="c" textLength="418" lengthAdjust="spacingAndGlyphs">Calculate priority by multiplying Frequency (1–5) by</text>
<text x="1160" y="1035" class="c" textLength="385" lengthAdjust="spacingAndGlyphs">impact (1–5) to identify the most critical issues.</text>
</g>
<rect x="1425" y="889" width="235" height="166" rx="12" fill="#c6dfe3"/>
<text x="1441" y="917" class="b" font-size="17" fill="#2b7b8c" textLength="107" lengthAdjust="spacingAndGlyphs">Key Finding:</text>
<text x="1441" y="944" class="b k" font-size="20" textLength="168" lengthAdjust="spacingAndGlyphs">Ease of Fix Filter</text>
<g class="b k" font-size="15">
<text x="1441" y="967" textLength="199" lengthAdjust="spacingAndGlyphs">Once scored, use the “Ease</text>
<text x="1441" y="985" textLength="191" lengthAdjust="spacingAndGlyphs">of Fis” motrix as an action</text>
<text x="1441" y="1003" textLength="164" lengthAdjust="spacingAndGlyphs">filter to separate quick</text>
<text x="1441" y="1021" textLength="148" lengthAdjust="spacingAndGlyphs">wins from long-term</text>
<text x="1441" y="1040" textLength="145" lengthAdjust="spacingAndGlyphs">etrategie redesigns.</text>
</g>

<!-- RIGHT column -->
<text x="2252" y="223" class="b k c" font-size="32" textLength="362" lengthAdjust="spacingAndGlyphs">Visualizing the Friction</text>

<!-- heat map -->
<rect x="1920" y="259" width="291" height="181" rx="12" fill="#1f3a55"/>
<g fill="none" stroke="#36a38d" stroke-width="2.5">
<path d="M1932,300 H1968 L1990,322 V360"/><path d="M1925,340 H1958 L1985,366"/><path d="M2000,262 V290 L2015,305"/>
<path d="M2030,262 V300 L2050,320 V350 L2060,363"/><path d="M2060,262 V285 L2075,300 H2100"/><path d="M2090,262 V276"/>
<path d="M2120,262 V300 L2130,322"/><path d="M2150,262 V280 L2170,300 H2208"/><path d="M2140,330 L2175,345 H2208"/>
<path d="M2060,363 L2040,395 V437"/><path d="M1995,368 L1980,395 V437"/><path d="M1930,410 H1960 L1975,425"/>
<path d="M2170,375 H2200"/><path d="M1940,375 H1965"/><path d="M2105,300 V330"/><path d="M1945,265 L1965,285 H1990"/>
</g>
<g fill="none" stroke="#e0b04a" stroke-width="2"><path d="M2019,305 L2045,330 V355"/><path d="M2130,322 L2095,350 H2075 L2060,363"/><path d="M2019,337 V360 L1995,368"/><path d="M2060,363 L2095,392"/></g>
<g fill="none" stroke="#36a38d" stroke-width="2"><circle cx="1968" cy="300" r="4"/><circle cx="2100" cy="300" r="4"/><circle cx="2000" cy="286" r="4"/><circle cx="2060" cy="282" r="4"/><circle cx="2150" cy="278" r="4"/><circle cx="1930" cy="340" r="4"/><circle cx="2170" cy="375" r="4"/><circle cx="1975" cy="425" r="4"/><circle cx="2040" cy="405" r="4"/><circle cx="2105" cy="330" r="4"/></g>
<circle cx="2019" cy="305" r="24" fill="url(#gO)"/><circle cx="2019" cy="337" r="10" fill="url(#gO)"/><circle cx="1995" cy="368" r="22" fill="url(#gO)"/>
<circle cx="2060" cy="363" r="26" fill="url(#gR)"/><circle cx="2130" cy="322" r="34" fill="url(#gR)"/>
<circle cx="2102" cy="388" r="4.5" fill="#3ec08a"/><circle cx="2102" cy="406" r="4.5" fill="#f0c030"/><circle cx="2102" cy="424" r="4.5" fill="#ee3a2a"/>
<g class="b" font-size="10"><text x="2112" y="392" fill="#dfe8ee" textLength="93" lengthAdjust="spacingAndGlyphs">Gress (Loo·Worla)</text><text x="2112" y="410" fill="#f0c040" textLength="83" lengthAdjust="spacingAndGlyphs">Aleble (Viuedese)</text><text x="2112" y="428" fill="#dfe8ee" textLength="88" lengthAdjust="spacingAndGlyphs">Key (Digh.Worle)</text></g>
<text x="1918" y="459" class="b" font-size="12" fill="#333" textLength="294" lengthAdjust="spacingAndGlyphs"><tspan fill="#3aa04a">Green</tspan> (Low Wonis)  <tspan fill="#e8a83a">Andcer</tspan> (Utedcans)  <tspan fill="#e04a3a">Red</tspan> (Oligh Worlcc)</text>

<text x="2236" y="297" class="b k" font-size="21" textLength="241" lengthAdjust="spacingAndGlyphs">Digital Waste Heat Map</text>
<g class="b k" font-size="16.5">
<text x="2236" y="322" textLength="213" lengthAdjust="spacingAndGlyphs">Color-code a process map</text>
<text x="2236" y="343" textLength="242" lengthAdjust="spacingAndGlyphs">(Green, Amber, Red) based on</text>
<text x="2236" y="364" textLength="230" lengthAdjust="spacingAndGlyphs">inesta scores to immediately</text>
<text x="2236" y="385" textLength="250" lengthAdjust="spacingAndGlyphs">identify where digital friction is</text>
<text x="2236" y="405" textLength="65" lengthAdjust="spacingAndGlyphs">highest.</text>
</g>

<!-- bubble chart -->
<g stroke="#b8c4cc" stroke-width="2" stroke-dasharray="6 6"><line x1="2077" y1="500" x2="2077" y2="656"/><line x1="1952" y1="581" x2="2201" y2="581"/></g>
<g stroke="#2c3b6e" stroke-width="3" fill="none"><path d="M1946,500 V661 H2204"/></g>
<polygon points="1940,508 1946,494 1952,508" fill="#2c3b6e"/><polygon points="2200,655 2214,661 2200,667" fill="#2c3b6e"/>
<circle cx="1991" cy="526" r="30" fill="#3aa6aa" stroke="#1f6e80" stroke-width="2"/>
<circle cx="2019" cy="546" r="22" fill="#7b5cb3" stroke="#4e3a8a" stroke-width="2" opacity=".9"/>
<circle cx="2076" cy="570" r="17" fill="#35a0ac" stroke="#1f6e80" stroke-width="2"/>
<circle cx="2130" cy="546" r="13" fill="#a6d13c" stroke="#6a9a2a" stroke-width="2"/>
<circle cx="2173" cy="530" r="8" fill="#a6d13c" stroke="#6a9a2a" stroke-width="2"/>
<circle cx="2039" cy="602" r="12" fill="#7b5cb3" stroke="#4e3a8a" stroke-width="2"/>
<circle cx="1994" cy="624" r="7" fill="#35a0ac" stroke="#1f6e80" stroke-width="2"/>
<circle cx="2077" cy="624" r="7.5" fill="#7b5cb3" stroke="#4e3a8a" stroke-width="2"/>
<circle cx="2153" cy="620" r="14" fill="#35a0ac" stroke="#1f6e80" stroke-width="2"/>
<text transform="translate(1936,581) rotate(-90)" class="b k c" font-size="17" textLength="53" lengthAdjust="spacingAndGlyphs">Impact</text>
<text x="2076" y="684" class="b k c" font-size="17" textLength="85" lengthAdjust="spacingAndGlyphs">Ease of Fix</text>

<text x="2236" y="531" class="b k" font-size="21" textLength="258" lengthAdjust="spacingAndGlyphs">Waste Type Bubble Chart</text>
<g class="b k" font-size="16.5">
<text x="2236" y="556" textLength="262" lengthAdjust="spacingAndGlyphs">Plot issues an an X-axis (Ease of</text>
<text x="2236" y="577" textLength="234" lengthAdjust="spacingAndGlyphs">Fl¢l and F-axis (impact), with</text>
<text x="2236" y="598" textLength="199" lengthAdjust="spacingAndGlyphs">hubble size representing</text>
<text x="2236" y="618" textLength="82" lengthAdjust="spacingAndGlyphs">frequency.</text>
</g>

<!-- spaghetti -->
<rect x="1920" y="732" width="291" height="186" rx="12" fill="#1f2b4f"/>
<g fill="none" stroke-width="2.5" opacity=".95">
<path d="M1978,764 C2040,770 2100,800 2156,827" stroke="#ee7a4a"/>
<path d="M1978,768 C2050,800 2090,860 2156,887" stroke="#f0604a"/>
<path d="M1978,770 C2010,740 2080,745 2156,762" stroke="#e6d64a"/>
<path d="M1960,825 C2020,790 2080,760 2156,765" stroke="#e6d64a"/>
<path d="M1960,825 H2156" stroke="#4ab8d0"/>
<path d="M1960,825 C2030,840 2090,870 2156,885" stroke="#a8d84a"/>
<path d="M1960,825 C2010,800 2080,815 2156,830" stroke="#e6d64a"/>
<path d="M1975,888 C2030,860 2070,800 2156,765" stroke="#a8d84a"/>
<path d="M1975,888 C2040,870 2100,840 2156,832" stroke="#f0604a"/>
<path d="M1975,892 C2050,880 2110,860 2156,890" stroke="#4ab8d0"/>
<path d="M1975,880 C2020,840 2040,780 2080,760 C2110,750 2140,780 2150,790" stroke="#e6d64a"/>
<path d="M1975,895 C2040,905 2100,905 2156,895" stroke="#e6d64a"/>
<path d="M1990,880 C2030,820 2080,800 2156,770" stroke="#4ab8d0"/>
<path d="M1985,780 C2040,820 2090,850 2156,880" stroke="#e6d64a"/>
<path d="M1958,778 V880" stroke="#c8d84a"/>
<path d="M2175,815 V790" stroke="#f0604a"/>
</g>
<rect x="1945" y="751" width="33" height="25" fill="#e8eef2" stroke="#9ab" stroke-width="1"/><path d="M1945,751 L1961,766 L1978,751" fill="none" stroke="#556" stroke-width="1.5"/>
<rect x="1954" y="821" width="6" height="8" fill="#4ab8d0"/>
<rect x="1942" y="875" width="33" height="28" rx="3" fill="#3aa0a8"/><g stroke="#dff" stroke-width="2"><path d="M1948,884 H1968 M1948,890 H1968 M1948,896 H1962"/></g>
<rect x="2166" y="745" width="22" height="32" fill="#2b579a"/><rect x="2158" y="752" width="18" height="18" fill="#3b6ac0" stroke="#1f3a70"/>
<circle cx="2180" cy="828" r="14" fill="#1a8a96"/><rect x="2160" y="820" width="16" height="16" fill="#0f6e80"/>
<rect x="2166" y="870" width="22" height="33" fill="#217346"/><rect x="2158" y="878" width="18" height="18" fill="#2a8a56"/>
<g class="b" font-size="10" fill="#fff"><text x="2162" y="765">II</text><text x="2163" y="832">F</text><text x="2162" y="891">A</text></g>

<text x="2236" y="767" class="b k" font-size="21" textLength="247" lengthAdjust="spacingAndGlyphs">Digital Motion Spaghetti</text>
<text x="2236" y="792" class="b k" font-size="21" textLength="84" lengthAdjust="spacingAndGlyphs">Diagram</text>
<g class="b k" font-size="16.5">
<text x="2236" y="818" textLength="213" lengthAdjust="spacingAndGlyphs">Map the movement across</text>
<text x="2236" y="839" textLength="249" lengthAdjust="spacingAndGlyphs">platforms (e.g., Email to ERP to</text>
<text x="2236" y="859" textLength="252" lengthAdjust="spacingAndGlyphs">SharePoint) to reveal excessive</text>
<text x="2236" y="880" textLength="223" lengthAdjust="spacingAndGlyphs">screen changes and system</text>
<text x="2236" y="900" textLength="82" lengthAdjust="spacingAndGlyphs">switching.</text>
</g>

<!-- MATURITY -->
<text x="1834" y="1015" class="b k" font-size="34" textLength="408" lengthAdjust="spacingAndGlyphs">The Digital Maturity Scale</text>
<path d="M1253,1305 C1700,1230 2200,1140 2560,890 L2560,1305 Z" fill="url(#wedgeG)"/>
<!-- level 3 faint blueprint -->
<g stroke="#4aa8b0" stroke-width="2" opacity=".45" fill="none"><path d="M1810,1240 H1840 M1810,1260 H1850 M1810,1280 H1830 M2110,1230 H2150 M2110,1250 H2140 M1930,1290 H2000 M2040,1285 H2090"/></g>
<!-- level 5 flows -->
<g fill="none" stroke="#5fb8c8" stroke-width="2" opacity=".75">
<path d="M2230,1110 C2300,1100 2360,1070 2450,1060"/>
<path d="M2225,1150 C2300,1150 2350,1100 2560,1090"/>
<path d="M2225,1180 C2320,1180 2380,1140 2560,1135"/>
<path d="M2225,1225 C2330,1215 2400,1185 2560,1175"/>
<path d="M2225,1250 C2340,1250 2420,1220 2560,1215"/>
<path d="M2230,1280 C2350,1280 2430,1262 2560,1258"/>
<path d="M2300,1100 V1060 M2340,1230 C2380,1235 2420,1260 2440,1280"/>
</g>
<g fill="#7fd0d8" opacity=".8"><circle cx="2250" cy="1200" r="3"/><circle cx="2270" cy="1155" r="3"/><circle cx="2500" cy="1140" r="3"/><circle cx="2520" cy="1180" r="3"/><circle cx="2530" cy="1258" r="3"/></g>
<path d="M2235,1205 C2330,1200 2380,1130 2520,1110" fill="none" stroke="#9be05a" stroke-width="16" opacity=".45"/>
<path d="M2235,1205 C2330,1200 2380,1130 2520,1110" fill="none" stroke="#d0f580" stroke-width="4"/>
<polygon points="2515,1096 2546,1108 2516,1122" fill="#b8ec6a"/>
<path d="M2434,1262 L2450,1248 L2465,1254 L2480,1232 L2495,1244 L2509,1228 V1262 Z" fill="#3aa5b0" opacity=".6"/>
<g fill="#5ac8b0" opacity=".7"><rect x="2446" y="1000" width="5" height="30"/><rect x="2462" y="983" width="5" height="47"/><rect x="2478" y="1005" width="5" height="25"/><rect x="2494" y="993" width="5" height="37"/><rect x="2510" y="970" width="5" height="60"/><rect x="2526" y="982" width="5" height="48"/></g>
<!-- chevrons & arrows -->
<polyline points="1768,1212 1798,1258 1768,1305" fill="none" stroke="#e3eff3" stroke-width="4"/>
<polyline points="2163,1098 2219,1200 2163,1305" fill="none" stroke="#e8f2f4" stroke-width="4"/>
<line x1="1734" y1="1257" x2="1762" y2="1257" stroke="#e3eff3" stroke-width="3"/><polygon points="1758,1250 1770,1257 1758,1264" fill="#e3eff3"/>
<line x1="2095" y1="1200" x2="2172" y2="1200" stroke="#e3eff3" stroke-width="3"/><polygon points="2168,1192 2182,1200 2168,1208" fill="#e3eff3"/>

<!-- Level 1 illustration -->
<g stroke="#2c3e66" stroke-width="2">
<rect x="1478" y="1113" width="49" height="34" fill="#eef4f6"/>
<rect x="1515" y="1167" width="136" height="84" rx="4" fill="#1f2f4f"/>
<rect x="1561" y="1251" width="45" height="20" fill="#8fb8c8"/>
<rect x="1534" y="1270" width="98" height="10" fill="#8fb8c8"/>
<rect x="1451" y="1227" width="72" height="46" fill="#eef4f6"/>
<rect x="1670" y="1145" width="52" height="38" fill="#eef4f6"/>
<path d="M1636,1273 L1700,1276 L1711,1290 L1646,1290 Z" fill="#eef4f6"/>
</g>
<g fill="#2f7f9e"><rect x="1451" y="1227" width="72" height="6"/><rect x="1670" y="1145" width="52" height="6"/></g>
<g fill="#8aa8c0"><rect x="1680" y="1158" width="34" height="3"/><rect x="1680" y="1166" width="34" height="3"/><rect x="1680" y="1174" width="28" height="3"/><rect x="1460" y="1242" width="30" height="3"/><rect x="1460" y="1252" width="30" height="3"/><rect x="1460" y="1262" width="30" height="3"/><rect x="1486" y="1122" width="30" height="3"/><rect x="1486" y="1130" width="20" height="3"/></g>
<g stroke-width="3"><path d="M1525,1180 H1560" stroke="#e8703a"/><path d="M1530,1190 H1575" stroke="#4ab8a0"/><path d="M1530,1200 H1565" stroke="#8cc63f"/><path d="M1525,1212 H1570" stroke="#e8703a"/><path d="M1530,1222 H1590" stroke="#4ab8a0"/><path d="M1595,1200 H1640" stroke="#4ab8a0"/><path d="M1600,1230 H1640" stroke="#e8703a"/></g>
<path d="M1600,1167 L1590,1190 L1605,1210 L1592,1251" fill="none" stroke="#dfe8ee" stroke-width="2"/>
<g fill="none" stroke="#2c3e66" stroke-width="2"><path d="M1540,1130 C1550,1110 1560,1140 1570,1115"/><path d="M1590,1110 C1595,1130 1585,1140 1600,1155"/><path d="M1690,1120 C1700,1105 1710,1125 1715,1110"/><path d="M1700,1200 C1710,1215 1705,1230 1715,1240"/></g>
<circle cx="1658" cy="1140" r="18" fill="#e5603a" stroke="#2c3e66" stroke-width="2"/><rect x="1655" y="1128" width="6" height="15" fill="#fff"/><circle cx="1658" cy="1149" r="3" fill="#fff"/>
<circle cx="1645" cy="1255" r="20" fill="#e5603a" stroke="#2c3e66" stroke-width="2"/><path d="M1637,1247 L1653,1263 M1653,1247 L1637,1263" stroke="#2c3e66" stroke-width="2.5"/>
<g fill="none" stroke="#e8703a" stroke-width="6"><rect x="1450" y="1170" width="18" height="30" rx="9" transform="rotate(-30 1459 1185)"/><rect x="1470" y="1188" width="18" height="30" rx="9" transform="rotate(-30 1479 1203)"/></g>
<path d="M1485,1290 L1490,1265 L1510,1262 L1528,1290 Z" fill="#e8703a" stroke="#2c3e66" stroke-width="2"/>
<path d="M1505,1250 L1520,1275" stroke="#2c3e66" stroke-width="3"/>

<!-- Level 3 illustration -->
<g fill="none" stroke="#9ccc4a" stroke-width="2.5"><path d="M1903,1155 H1937"/><path d="M2005,1145 H2025 V1140 H2042"/><path d="M1907,1232 H1937"/><path d="M2005,1225 H2027"/><path d="M2000,1260 V1290 H2060 V1273"/><path d="M1900,1105 H1922"/></g>
<circle cx="1878" cy="1106" r="14" fill="#4aa0a8" stroke="#2c3e66" stroke-width="2"/><circle cx="1878" cy="1106" r="5" fill="#dff"/>
<g fill="#7fd0c8" opacity=".9"><rect x="1922" y="1087" width="60" height="9"/><rect x="1935" y="1100" width="47" height="9"/><rect x="1922" y="1113" width="55" height="9"/></g>
<rect x="1986" y="1095" width="26" height="28" fill="#eef4f6" stroke="#2c3e66" stroke-width="2"/>
<g stroke="#2c3e66" stroke-width="2" fill="#f4f8fa">
<rect x="1843" y="1138" width="60" height="35"/><rect x="1937" y="1135" width="68" height="106"/><rect x="2042" y="1117" width="60" height="45"/><rect x="1850" y="1215" width="57" height="36"/><rect x="2027" y="1212" width="68" height="61"/>
</g>
<g fill="#2f7f9e"><rect x="1843" y="1138" width="60" height="6"/><rect x="1937" y="1135" width="68" height="6"/><rect x="2042" y="1117" width="60" height="6"/><rect x="1850" y="1215" width="57" height="6"/><rect x="2027" y="1212" width="68" height="6"/></g>
<g fill="#8aa8c0"><rect x="1852" y="1150" width="40" height="3"/><rect x="1852" y="1158" width="40" height="3"/><rect x="1852" y="1166" width="34" height="3"/><rect x="2052" y="1132" width="40" height="3"/><rect x="2052" y="1141" width="40" height="3"/><rect x="2052" y="1150" width="34" height="3"/><rect x="1858" y="1228" width="40" height="3"/><rect x="1858" y="1236" width="40" height="3"/><rect x="2040" y="1228" width="44" height="3"/><rect x="2040" y="1240" width="44" height="3"/><rect x="2040" y="1252" width="44" height="3"/></g>
<g fill="#2f8f9a" stroke="#2c3e66" stroke-width="1.5"><rect x="1960" y="1150" width="20" height="12" rx="3"/><rect x="1960" y="1175" width="20" height="12" rx="3"/><rect x="1960" y="1200" width="20" height="12" rx="3"/><rect x="1960" y="1222" width="20" height="12" rx="3"/></g>
<path d="M1970,1162 V1175 M1970,1187 V1200 M1970,1212 V1222 M1980,1181 H1995 V1228 H1980" fill="none" stroke="#2c3e66" stroke-width="1.5"/>
<g fill="#e8503a"><rect x="2034" y="1228" width="4" height="3"/><rect x="2034" y="1240" width="4" height="3"/></g>

<!-- Level texts -->
<g class="b k" font-size="20">
<text x="1582" y="1335" class="c" textLength="216" lengthAdjust="spacingAndGlyphs">Level 1: Digital Chaos</text>
<text x="1970" y="1335" class="c" textLength="331" lengthAdjust="spacingAndGlyphs">Level 3: Managed Digital Process</text>
<text x="2348" y="1335" class="c" textLength="299" lengthAdjust="spacingAndGlyphs">Level 5: Intelligent Value Flow</text>
</g>
<g class="b k" font-size="14.5">
<text x="1583" y="1357" class="c" textLength="324" lengthAdjust="spacingAndGlyphs">Characterized by multiple workarounds, high</text>
<text x="1583" y="1375" class="c" textLength="338" lengthAdjust="spacingAndGlyphs">duplication, and poor visibility across systems.</text>
<text x="1970" y="1357" class="c" textLength="331" lengthAdjust="spacingAndGlyphs">Key workflows are controlled and some waste</text>
<text x="1970" y="1375" class="c" textLength="369" lengthAdjust="spacingAndGlyphs">has been removed, but optimization is still needed.</text>
<text x="2348" y="1357" class="c" textLength="306" lengthAdjust="spacingAndGlyphs">The ideal state where digital tools support</text>
<text x="2347" y="1375" class="c" textLength="259" lengthAdjust="spacingAndGlyphs">fast, evidence-based decisions with</text>
<text x="2348" y="1392" class="c" textLength="111" lengthAdjust="spacingAndGlyphs">minimal waste.</text>
</g>

<!-- NotebookLM -->
<path d="M2374,1418 V1410 A10,9 0 0 1 2394,1410 V1418 M2379,1418 V1411 A5,5 0 0 1 2389,1411 V1418" fill="none" stroke="#111" stroke-width="2.6"/>
<text x="2398" y="1418" font-size="21" fill="#111" stroke="#111" stroke-width=".4" textLength="152" lengthAdjust="spacingAndGlyphs">NotebookLM</text>
</svg>
</body></html>
